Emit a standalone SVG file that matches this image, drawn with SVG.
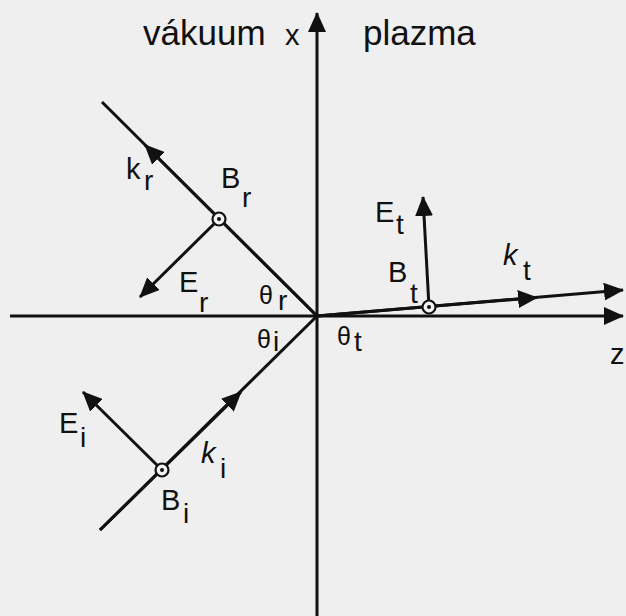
<svg xmlns="http://www.w3.org/2000/svg" width="626" height="616" viewBox="0 0 626 616">
<style>
.ln{stroke:#111;stroke-width:3;fill:none;stroke-linecap:butt}
.ar{marker-end:url(#ah)}
.dot{fill:#f2f2f2;stroke:#111;stroke-width:2.2}
.ctr{fill:#111}
text{font-family:"Liberation Sans",Arial,sans-serif;fill:#111}
.big{font-size:35px}
.lb{font-size:29px}
.sb{font-size:28px}
.th{font-size:25px}
.it{font-style:italic}
</style>
<defs>
<marker id="ah" markerUnits="userSpaceOnUse" markerWidth="20" markerHeight="18" viewBox="0 0 20 18" refX="19" refY="9" orient="auto">
<path d="M0,0 L20,9 L0,18 z" fill="#111"/>
</marker>
</defs>
<rect width="626" height="616" fill="#efefef"/>
<g id="axes">
<line class="ln ar" x1="10" y1="316" x2="623" y2="316"/>
<line class="ln ar" x1="317" y1="616" x2="317" y2="13"/>
</g>
<g id="connectors">
<line class="ln" x1="100" y1="530" x2="317" y2="316"/>
<line class="ln ar" x1="100" y1="530" x2="241" y2="392"/>
<line class="ln" x1="102" y1="102" x2="317" y2="316"/>
<line class="ln ar" x1="317" y1="316" x2="145" y2="145"/>
<line class="ln ar" x1="317" y1="316" x2="623" y2="290"/>
<line class="ln ar" x1="317" y1="316" x2="537" y2="297.5"/>
<line class="ln ar" x1="162" y1="470" x2="83" y2="392"/>
<line class="ln ar" x1="219" y1="219" x2="140" y2="297"/>
<line class="ln ar" x1="429" y1="307" x2="423" y2="197"/>
</g>
<g id="Bi"><circle class="dot" cx="162" cy="470" r="6.5"/><circle class="ctr" cx="162" cy="470" r="2"/></g>
<g id="Br"><circle class="dot" cx="219" cy="219" r="6.5"/><circle class="ctr" cx="219" cy="219" r="2"/></g>
<g id="Bt"><circle class="dot" cx="429" cy="307" r="6.5"/><circle class="ctr" cx="429" cy="307" r="2"/></g>
<g id="labels">
<text class="big" x="143" y="45">vákuum</text>
<text class="lb" x="285" y="45">x</text>
<text class="big" x="363" y="45">plazma</text>
<text class="lb" x="126" y="179">k</text><text class="sb" x="144" y="190">r</text>
<text class="lb" x="221" y="188">B</text><text class="sb" x="242" y="207">r</text>
<text class="lb" x="179" y="292">E</text><text class="sb" x="199" y="312">r</text>
<text class="th" x="259" y="304">θ</text><text class="sb" x="278" y="310">r</text>
<text class="th" x="257" y="348">θ</text><text class="sb" x="273" y="351">i</text>
<text class="th" x="337" y="345">θ</text><text class="sb" x="354" y="351">t</text>
<text class="lb" x="375" y="222">E</text><text class="sb" x="396" y="234">t</text>
<text class="lb" x="388" y="282">B</text><text class="sb" x="410" y="303">t</text>
<text class="lb it" x="503" y="265">k</text><text class="sb" x="523" y="280">t</text>
<text class="lb" x="59" y="433">E</text><text class="sb" x="80" y="447">i</text>
<text class="lb it" x="201" y="463">k</text><text class="sb" x="220" y="478">i</text>
<text class="lb" x="161" y="510">B</text><text class="sb" x="183" y="523">i</text>
<text class="lb" x="610" y="364">z</text>
</g>
</svg>
